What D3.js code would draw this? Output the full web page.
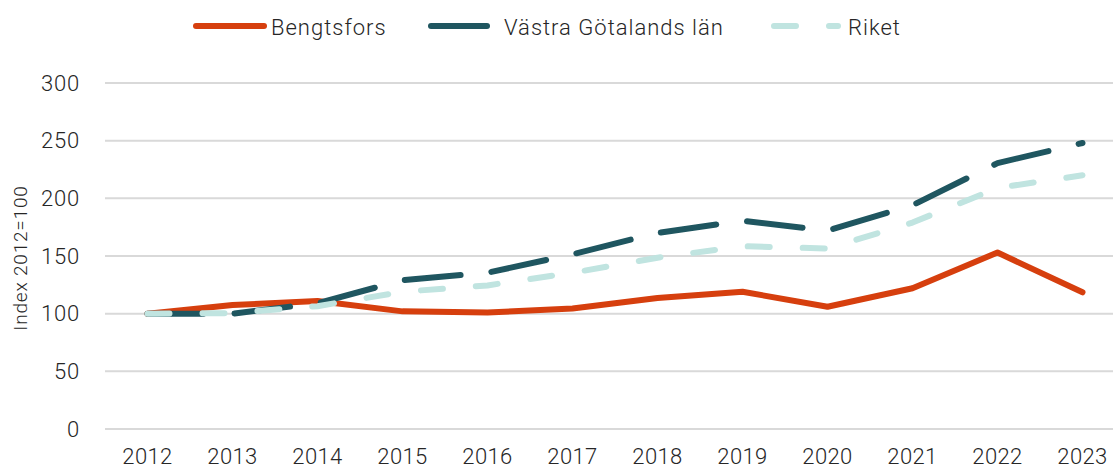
<!DOCTYPE html>
<html>
<head>
<meta charset="utf-8">
<script src="https://cdn.jsdelivr.net/npm/d3@7"></script>
<style>
  body { margin: 0; background: #fff; }
  svg { display: block; font-family: Roboto, "Liberation Sans", sans-serif; font-weight: 300; }
</style>
</head>
<body>
<div id="chart"></div>
<script>
// Data
const years = ["2012", "2013", "2014", "2015", "2016", "2017", "2018", "2019", "2020", "2021", "2022", "2023"];
const bengtsfors = [100, 107.5, 111, 102, 101, 104.5, 113.5, 119, 106, 122, 153, 118.5];
const vastraGotaland = [100, 100, 109, 129, 135.5, 151.5, 170, 180.5, 172, 194, 230.5, 248];
const riket = [100, 100.5, 106.5, 119, 124.5, 135.5, 148.5, 158.5, 156.5, 179, 209, 220];
const yTicks = [0, 50, 100, 150, 200, 250, 300];

const series = [
  { name: "Bengtsfors", values: bengtsfors, color: "#D63F0E", dash: null },
  { name: "Västra Götalands län", values: vastraGotaland, color: "#1F5660", dash: "56,31" },
  { name: "Riket", values: riket, color: "#C0E4E0", dash: "22,33" }
];

const width = 1113;
const height = 468;
const margin = { top: 83, right: -12, bottom: 39, left: 105 };
const innerWidth = width - margin.left - margin.right;
const innerHeight = height - margin.top - margin.bottom;

const svg = d3.select("#chart")
  .append("svg")
    .attr("width", width)
    .attr("height", height);

const innerChart = svg
  .append("g")
    .attr("transform", `translate(${margin.left}, ${margin.top})`);

// Scales
const xScale = d3.scaleBand()
  .domain(years)
  .range([0, innerWidth]);

const yScale = d3.scaleLinear()
  .domain([0, 300])
  .range([innerHeight, 0]);

// Gridlines
innerChart
  .selectAll(".grid")
  .data(yTicks)
  .join("line")
    .attr("class", "grid")
    .attr("x1", 0)
    .attr("x2", innerWidth)
    .attr("y1", d => yScale(d))
    .attr("y2", d => yScale(d))
    .attr("stroke", "#d9d9d9")
    .attr("stroke-width", 2);

// Left axis labels
const leftAxis = d3.axisLeft(yScale).tickValues(yTicks).tickSize(0).tickPadding(25);
innerChart
  .append("g")
    .attr("class", "axis-y")
    .call(leftAxis)
    .call(g => g.select(".domain").remove())
    .call(g => g.selectAll("text")
      .style("font-family", "Roboto, sans-serif")
      .style("font-weight", 300)
      .style("font-size", "22px")
      .style("letter-spacing", "0.8px")
      .attr("fill", "#262626"));

// Bottom axis labels
const bottomAxis = d3.axisBottom(xScale).tickSize(0).tickPadding(19);
innerChart
  .append("g")
    .attr("class", "axis-x")
    .attr("transform", `translate(0, ${innerHeight})`)
    .call(bottomAxis)
    .call(g => g.select(".domain").remove())
    .call(g => g.selectAll("text")
      .style("font-family", "Roboto, sans-serif")
      .style("font-weight", 300)
      .style("font-size", "22px")
      .style("letter-spacing", "0.4px")
      .attr("fill", "#262626"));

// Y axis title
svg
  .append("text")
    .text("Index 2012=100")
    .attr("transform", `translate(27, ${margin.top + yScale(150) + 2}) rotate(-90)`)
    .attr("text-anchor", "middle")
    .attr("fill", "#262626")
    .style("font-size", "19px")
    .style("letter-spacing", "0.8px");

// Lines
const line = d3.line()
  .x((d, i) => xScale(years[i]) + xScale.bandwidth() / 2)
  .y(d => yScale(d));

innerChart
  .selectAll(".series")
  .data(series)
  .join("path")
    .attr("class", "series")
    .attr("d", d => line(d.values))
    .attr("fill", "none")
    .attr("stroke", d => d.color)
    .attr("stroke-width", 6)
    .attr("stroke-linecap", "round")
    .attr("stroke-linejoin", "round")
    .attr("stroke-dasharray", d => d.dash);

// Legend
const legendPos = [
  { x1: 196, x2: 264, tx: 271 },
  { x1: 431, x2: 487, tx: 504 },
  { x1: 774, x2: 838, tx: 848 }
];
const legend = svg
  .selectAll(".legend")
  .data(series)
  .join("g")
    .attr("class", "legend");
legend
  .append("line")
    .attr("x1", (d, i) => legendPos[i].x1)
    .attr("x2", (d, i) => legendPos[i].x2)
    .attr("y1", 26)
    .attr("y2", 26)
    .attr("stroke", d => d.color)
    .attr("stroke-width", 6)
    .attr("stroke-linecap", "round")
    .attr("stroke-dasharray", d => d.dash);
legend
  .append("text")
    .text(d => d.name)
    .attr("x", (d, i) => legendPos[i].tx)
    .attr("y", 27)
    .attr("dominant-baseline", "central")
    .attr("fill", "#262626")
    .style("font-size", "22px")
    .style("letter-spacing", "1px");
</script>
</body>
</html>
